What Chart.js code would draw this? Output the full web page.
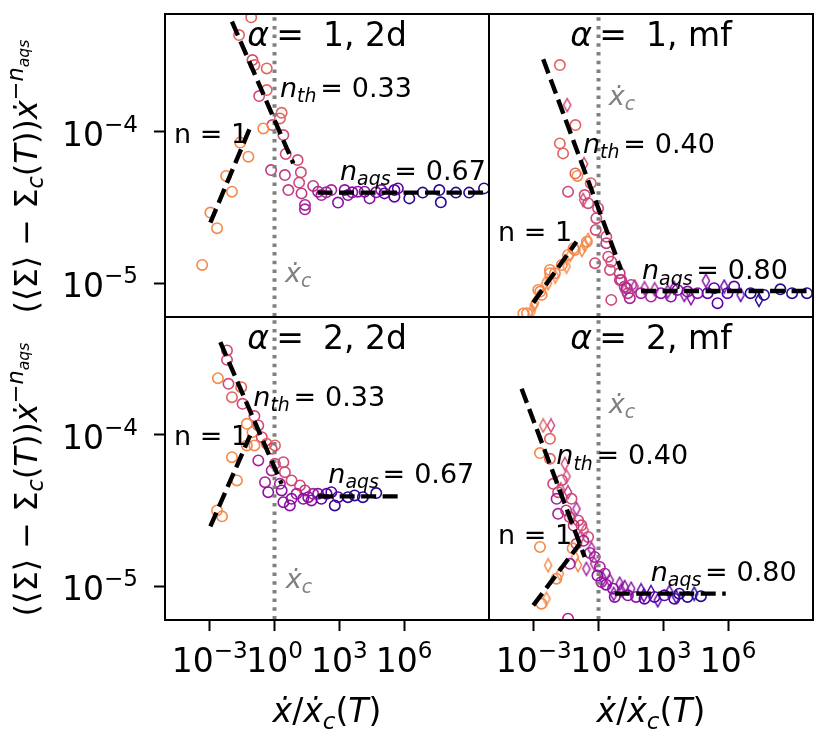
<!DOCTYPE html>
<html><head><meta charset="utf-8">
<script src="https://cdn.jsdelivr.net/npm/chart.js@4"></script>
<style>
html,body{margin:0;padding:0;background:#fff;}
#wrap{position:relative;width:830px;height:738px;background:#fff;overflow:hidden;}
canvas{position:absolute;left:0;top:0;}
</style></head><body><div id="wrap">
<canvas id="c0" width="830" height="738"></canvas>
<canvas id="c1" width="830" height="738"></canvas>
<canvas id="c2" width="830" height="738"></canvas>
<canvas id="c3" width="830" height="738"></canvas>
</div>
<script>
// ---------- DATA (log10 of values) ----------
const xTickVals = [1e-3, 1, 1e3, 1e6];
const xTickExp = ['\u22123', '0', '3', '6'];
const yTickVals = [1e-4, 1e-5];
const yTickExp = ['\u22124', '\u22125'];
const X_LOG_RANGE = [-5.07, 9.93];
const Y_LOG_RANGE = [-5.223, -3.223];

// group index: 0 = coldest (dark blue) ... 7 = hottest (orange)
// alpha = 1, 2d  (circles)
const tlLogX = [-1.08,-1.64,-1.02,-0.93,-0.36,-0.36,-0.71,0.33,0.25,-0.10,-0.52,0.41,-1.59,-1.21,0.52,1.07,-0.16,1.22,0.48,-2.24,1.14,0.64,-1.97,1.25,1.41,1.41,-2.97,-2.66,-3.35,
  1.79,2.02,2.17,2.40,2.63,2.94,3.25,3.40,3.60,3.86,4.17,4.40,4.70,4.94,5.09,5.55,5.71,5.55,6.24,6.86,7.63,7.70,8.40,9.01,9.70];
const tlLogY = [-3.245,-3.362,-3.527,-3.56,-3.582,-3.725,-3.765,-3.875,-3.912,-3.956,-3.978,-4.022,-4.072,-4.165,-4.147,-4.187,-4.253,-4.268,-4.286,-4.292,-4.336,-4.385,-4.396,-4.407,-4.483,-4.512,-4.534,-4.637,-4.879,
  -4.358,-4.396,-4.418,-4.40,-4.385,-4.468,-4.385,-4.418,-4.40,-4.396,-4.396,-4.44,-4.40,-4.385,-4.407,-4.385,-4.374,-4.429,-4.44,-4.402,-4.385,-4.466,-4.402,-4.402,-4.374];
const tlGroup = [6,6,5,6,6,6,5,6,6,5,7,5,7,7,5,5,4,5,4,7,5,4,7,4,3,3,7,7,7,
  4,3,3,3,3,2,2,2,2,2,2,2,2,2,1,1,1,1,0,0,0,0,0,0,0];

// alpha = 1, mf  (circles + diamonds)
const trCircLogX = [-1.79,-1.07,-1.79,-1.64,-1.07,-0.98,-0.36,-1.41,-0.64,-0.48,-0.02,-0.10,-0.13,0.36,0.36,-1.10,-1.41,0.59,-2.02,-2.25,0.98,1.05,1.21,-2.79,-2.63,0.59,-3.48,
  -3.31,-2.70,-2.24,-1.70,-1.16,-0.54,-0.16,0.45,0.53,0.99,1.30,1.45,
  1.36,1.51,1.97,2.43,2.89,3.35,3.66,4.12,4.59,5.05,5.35,5.51,5.97,6.28,7.04,7.66,8.42,8.96,9.65];
const trCircLogY = [-3.56,-3.956,-4.077,-4.143,-4.275,-4.292,-4.34,-4.396,-4.418,-4.472,-4.505,-4.571,-4.648,-4.693,-4.736,-4.78,-4.813,-4.858,-4.934,-4.912,-4.934,-4.978,-5.022,-5.044,-5.077,-5.11,-5.20,
  -5.198,-5.055,-4.934,-4.88,-4.77,-4.726,-4.868,-4.825,-4.912,-4.978,-5.033,-5.099,
  -5.066,-5.011,-5.066,-5.088,-5.066,-5.088,-5.044,-5.055,-5.066,-5.066,-5.033,-5.132,-5.066,-5.022,-5.066,-5.077,-5.04,-5.066,-5.066];
const trCircGroup = [6,6,6,6,6,7,6,5,5,5,5,5,5,5,4,7,7,5,7,7,4,4,4,7,7,5,7,
  7,7,7,7,7,7,5,5,5,4,3,3,
  4,4,3,3,2,2,2,2,2,1,1,1,1,1,0,0,0,0,0];
const trDiamLogX = [-1.45,-0.67,-0.71,-0.48,-0.64,-1.48,-2.33,-2.94,-3.10,-3.00,-2.47,-2.00,-1.31,-0.77,
  1.20,1.67,2.13,2.60,3.20,3.50,3.97,4.28,4.97,5.82,6.58,7.43];
const trDiamLogY = [-3.824,-4.213,-4.45,-4.714,-4.747,-4.89,-5.0,-5.132,-5.187,-5.143,-5.0,-4.956,-4.813,-4.78,
  -5.05,-5.022,-5.033,-5.04,-5.055,-5.03,-5.077,-5.099,-4.983,-5.022,-5.077,-5.11];
const trDiamGroup = [5,5,5,7,7,7,7,7,7,7,7,7,7,7,
  4,3,3,3,2,2,2,2,2,1,1,0];

// alpha = 2, 2d  (circles)
const blLogX = [-2.20,-2.20,-2.62,-2.13,-1.54,-1.97,-1.48,-0.93,-1.28,-0.75,-1.02,-0.59,-1.28,-0.93,-0.36,0.02,-0.13,-1.97,-0.75,0.02,0.41,0.48,-0.13,-1.74,-0.44,0.25,0.79,1.18,
  -0.29,0.33,1.02,1.41,1.56,1.79,0.41,0.71,0.79,1.33,1.71,2.02,2.17,2.41,2.63,2.79,2.94,3.40,3.71,4.09,4.71,-2.66,-2.43];
const blLogY = [-3.444,-3.506,-3.627,-3.664,-3.686,-3.752,-3.796,-3.877,-3.928,-3.939,-3.983,-4.016,-4.071,-4.071,-4.06,-4.071,-4.093,-4.148,-4.17,-4.192,-4.181,-4.247,-4.236,-4.302,-4.313,-4.324,-4.302,-4.335,
  -4.379,-4.368,-4.39,-4.368,-4.412,-4.39,-4.445,-4.467,-4.423,-4.423,-4.434,-4.39,-4.423,-4.39,-4.379,-4.467,-4.412,-4.412,-4.401,-4.412,-4.385,-4.50,-4.539];
const blGroup = [5,5,7,5,6,6,5,5,7,5,7,5,7,7,6,6,5,7,3,5,5,5,3,7,3,3,5,5,
  2,2,3,4,2,3,2,2,2,2,2,2,1,1,1,0,1,0,0,0,0,7,7];

// alpha = 2, mf  (circles + diamonds)
const brCircLogX = [-2.25,-2.71,-2.25,-2.10,-1.87,-1.94,-1.25,-1.87,-1.33,-0.94,-0.79,-0.48,-1.02,-2.71,-0.18,-1.33,0.06,0.29,0.13,0.67,-2.64,-1.41,
  -1.70,-1.50,-1.15,-0.70,-0.40,-0.05,0.35,-1.95,-1.20,
  0.75,1.36,1.74,2.13,2.59,3.05,3.51,3.74,4.12,4.74];
const brCircLogY = [-4.027,-4.121,-4.159,-4.324,-4.379,-4.423,-4.423,-4.522,-4.544,-4.566,-4.598,-4.675,-4.72,-4.741,-4.807,-4.852,-4.873,-4.917,-4.972,-5.016,-5.115,-5.214,
  -4.30,-4.50,-4.60,-4.70,-4.78,-4.93,-4.99,-4.95,-4.75,
  -5.071,-5.06,-5.071,-5.082,-5.071,-5.06,-5.082,-5.049,-5.071,-5.066];
const brCircGroup = [6,7,6,5,5,3,5,3,5,5,5,5,5,7,3,3,3,3,3,2,7,3,
  5,4,4,3,3,2,2,7,7,
  2,2,2,1,1,1,1,0,0,0];
const brDiamLogX = [-2.56,-2.20,-1.56,-1.48,-1.41,-1.02,-0.64,-0.33,-1.10,-2.33,-0.56,-1.79,0.52,0.98,1.21,-2.41,
  -1.75,-1.25,-0.85,-0.20,0.20,-0.95,
  0.70,1.05,1.51,1.97,2.10,2.43,2.74,3.28,3.60,4.43];
const brDiamLogY = [-3.939,-3.939,-4.192,-4.275,-4.379,-4.489,-4.631,-4.752,-4.807,-4.862,-4.885,-4.917,-4.961,-4.983,-5.005,-5.082,
  -4.36,-4.55,-4.68,-4.85,-4.95,-4.86,
  -5.05,-5.027,-5.016,-5.027,-5.06,-5.038,-5.093,-5.038,-5.07,-5.049];
const brDiamGroup = [6,5,5,5,4,3,5,3,7,7,3,7,2,2,2,7,
  5,4,4,3,2,7,
  2,2,2,1,1,1,1,1,0,0];

// guide lines: [logX, logY] end points
const tlThLine = [[-1.97,-3.274],[0.87,-4.209]];
const tlOneLine = [[-2.97,-4.60],[-1.08,-3.956]];
const tlAqsLine = [[1.99,-4.402],[10.5,-4.402]];
const trThLine = [[-2.56,-3.522],[1.05,-4.912]];
const trOneLine = [[-3.02,-5.128],[-1.02,-4.726]];
const trAqsLine = [[1.97,-5.051],[10.5,-5.051]];
const blThLine = [[-2.51,-3.389],[0.33,-4.324]];
const blOneLine = [[-2.97,-4.605],[-1.13,-4.005]];
const blAqsLine = [[2.02,-4.407],[5.94,-4.407]];
const brThLine = [[-3.56,-3.697],[-0.64,-4.807]];
const brOneLine = [[-3.02,-5.126],[-0.87,-4.72]];
const brAqsLine = [[0.75,-5.049],[5.89,-5.049]];
const critX = 1; // x / x_c = 1

const panelTitles = [['1','2d'],['1','mf'],['2','2d'],['2','mf']];
const nthLabels = ['0.33','0.40','0.33','0.40'];
const naqsLabels = ['0.67','0.80','0.67','0.80'];

// ---------- STYLE ----------
const GROUP_COLORS = ['#2a0795','#5b02a5','#8a10a4','#a7219b','#c03884','#d04a77','#e1645f','#f4894a'];
const FONT = '"DejaVu Sans", "Noto Sans", sans-serif';
const W = 830, H = 738;

function diamondImg(color){
  const c = document.createElement('canvas');
  c.width = 12; c.height = 16;
  const g = c.getContext('2d');
  g.strokeStyle = color; g.lineWidth = 1.5;
  g.beginPath();
  g.moveTo(6,1.5); g.lineTo(9.6,8); g.lineTo(6,14.5); g.lineTo(2.4,8); g.closePath();
  g.stroke();
  return c;
}
const DIAMONDS = GROUP_COLORS.map(diamondImg);

function pts(lx, ly){ return lx.map((v,i)=>({x:Math.pow(10,v), y:Math.pow(10,ly[i])})); }

// segments: [text, flags] (i italic, b subscript, p superscript, q sub-of-superscript) or [gapInEm]
function drawRich(ctx, segs, x, y, size, color, align){
  const items = segs.map(([t,f]) => {
    if (typeof t === 'number') return {gap:true, w:t*size};
    f = f || '';
    let s = size, dy = 0;
    if (f.includes('b')) { s = size*0.7; dy = size*0.2; }
    if (f.includes('p')) { s = size*0.7; dy = -size*0.43; }
    if (f.includes('q')) { s = size*0.49; dy = -size*0.43 + size*0.7*0.25; }
    const font = (f.includes('i') ? 'italic ' : '') + s.toFixed(2) + 'px ' + FONT;
    ctx.font = font;
    return {t, font, dy, w: ctx.measureText(t).width};
  });
  const total = items.reduce((a,b)=>a+b.w,0);
  let cx = align==='center' ? x-total/2 : (align==='right' ? x-total : x);
  ctx.fillStyle = color; ctx.textBaseline = 'alphabetic'; ctx.textAlign = 'left';
  for (const it of items){ if (!it.gap){ ctx.font = it.font; ctx.fillText(it.t, cx, y+it.dy); } cx += it.w; }
  return total;
}

const panels = [
  {id:'c0', rect:{l:165,t:14,r:489,b:317}, showX:false, showY:true,
   sets:[[tlLogX,tlLogY,tlGroup,'circle']], lines:[tlThLine,tlOneLine,tlAqsLine],
   txt:{nth:[115,83], one:[9,128.7], aqs:[175,166], xc:[120,267.7]}},
  {id:'c1', rect:{l:489,t:14,r:813,b:317}, showX:false, showY:false,
   sets:[[trCircLogX,trCircLogY,trCircGroup,'circle'],[trDiamLogX,trDiamLogY,trDiamGroup,'diamond']], lines:[trThLine,trOneLine,trAqsLine],
   txt:{nth:[94,138.7], one:[9,226.7], aqs:[153,265.3], xc:[119.7,91]}},
  {id:'c2', rect:{l:165,t:317,r:489,b:620}, showX:true, showY:true,
   sets:[[blLogX,blLogY,blGroup,'circle']], lines:[blThLine,blOneLine,blAqsLine],
   txt:{nth:[88.3,89], one:[9,128.3], aqs:[163.3,165.7], xc:[120.7,270.7]}},
  {id:'c3', rect:{l:489,t:317,r:813,b:620}, showX:true, showY:false,
   sets:[[brCircLogX,brCircLogY,brCircGroup,'circle'],[brDiamLogX,brDiamLogY,brDiamGroup,'diamond']], lines:[brThLine,brOneLine,brAqsLine],
   txt:{nth:[67.3,147.3], one:[9,227.3], aqs:[161.7,264], xc:[119.7,95.7]}}
];

panels.forEach((p, pi) => {
  const datasets = [];
  p.lines.forEach(seg => {
    datasets.push({data: pts(seg.map(s=>s[0]), seg.map(s=>s[1])), showLine:true, pointRadius:0,
      borderColor:'#000', borderWidth:4.4, borderDash:[15,6.5], borderCapStyle:'butt', order:0, clip:0});
  });
  datasets.push({data:[{x:critX,y:1e-7},{x:critX,y:1e-2}], showLine:true, pointRadius:0,
    borderColor:'#808080', borderWidth:4, borderDash:[3.5,5.2], borderCapStyle:'butt', order:1, clip:0});
  p.sets.forEach(([lx,ly,g,kind]) => {
    const col = g.map(k=>GROUP_COLORS[k]);
    datasets.push({data: pts(lx,ly), showLine:false, order:2, clip:0,
      pointStyle: kind==='circle' ? 'circle' : g.map(k=>DIAMONDS[k]),
      pointRadius: 5.2, pointBorderWidth: 1.6,
      pointBorderColor: col, pointBackgroundColor: 'rgba(0,0,0,0)'});
  });
  const r = p.rect;
  const panelPlugin = {
    id:'panelDeco'+pi,
    afterDatasetsDraw(chart){
      const ctx = chart.ctx, a = chart.chartArea;
      ctx.save();
      ctx.beginPath(); ctx.rect(a.left, a.top, a.right-a.left, a.bottom-a.top); ctx.clip();
      const T = p.txt;
      drawRich(ctx, [['\u03b1','i'],[0.22],['='],[0.58],[panelTitles[pi][0]+', '+panelTitles[pi][1]]], (a.left+a.right)/2, a.top+32, 33, '#000', 'center');
      drawRich(ctx, [['n','i'],['th','ib'],[0.14],['='],[0.33],[nthLabels[pi]]], a.left+T.nth[0], a.top+T.nth[1], 27, '#000', 'left');
      drawRich(ctx, [['n = 1']], a.left+T.one[0], a.top+T.one[1], 27, '#000', 'left');
      drawRich(ctx, [['n','i'],['aqs','ib'],[0.14],['='],[0.33],[naqsLabels[pi]]], a.left+T.aqs[0], a.top+T.aqs[1], 27, '#000', 'left');
      drawRich(ctx, [['\u1e8b','i'],['c','ib']], a.left+T.xc[0], a.top+T.xc[1], 27, '#808080', 'left');
      ctx.restore();
      ctx.save();
      ctx.strokeStyle = '#000'; ctx.lineWidth = 2;
      ctx.strokeRect(a.left, a.top, a.right-a.left, a.bottom-a.top);
      ctx.restore();
      ctx.save();
      if (p.showX){
        const sx = chart.scales.x;
        xTickVals.forEach((v,i)=>{
          drawRich(ctx, [['10'],[xTickExp[i],'p']], sx.getPixelForValue(v), a.bottom+52, 33, '#000', 'center');
        });
        drawRich(ctx, [['\u1e8b','i'],['/'],['\u1e8b','i'],['c','ib'],['('],['T','i'],[')']], (a.left+a.right)/2, a.bottom+102, 33, '#000', 'center');
      }
      if (p.showY){
        const sy = chart.scales.y;
        yTickVals.forEach((v,i)=>{
          drawRich(ctx, [['10'],[yTickExp[i],'p']], a.left-27, sy.getPixelForValue(v)+14, 33, '#000', 'right');
        });
        ctx.translate(37, (a.top+a.bottom)/2 + 148);
        ctx.rotate(-Math.PI/2);
        drawRich(ctx, [['(\u27e8\u03a3\u27e9 \u2212 \u03a3'],['c','ib'],['('],['T','i'],['))'],['\u1e8b','i'],['\u2212','p'],['n','ip'],['aqs','iq']], 0, 0, 32, '#000', 'left');
      }
      ctx.restore();
    }
  };
  const xOpts = {type:'logarithmic', min:Math.pow(10,X_LOG_RANGE[0]), max:Math.pow(10,X_LOG_RANGE[1]), display:p.showX,
           afterBuildTicks:s=>{ s.ticks = xTickVals.map(v=>({value:v})); },
           grid:{display:true, drawOnChartArea:false, drawTicks:true, tickLength:11, tickWidth:2, tickColor:'#000'},
           border:{display:false}, ticks:{display:false}};
  if (p.showX) xOpts.afterFit = s=>{ s.height = H-r.b; };
  const yOpts = {type:'logarithmic', min:Math.pow(10,Y_LOG_RANGE[0]), max:Math.pow(10,Y_LOG_RANGE[1]), display:p.showY,
           afterBuildTicks:s=>{ s.ticks = yTickVals.map(v=>({value:v})); },
           grid:{display:true, drawOnChartArea:false, drawTicks:true, tickLength:11, tickWidth:2, tickColor:'#000'},
           border:{display:false}, ticks:{display:false}};
  if (p.showY) yOpts.afterFit = s=>{ s.width = r.l; };
  new Chart(document.getElementById(p.id), {
    type:'scatter',
    data:{datasets},
    options:{
      responsive:false, animation:false, events:[],
      layout:{padding:{left: p.showY?0:r.l, right: W-r.r, top: r.t, bottom: p.showX?0:H-r.b}},
      plugins:{legend:{display:false}, tooltip:{enabled:false}, title:{display:false}},
      scales:{x:xOpts, y:yOpts}
    },
    plugins:[panelPlugin]
  });
});
</script></body></html>
